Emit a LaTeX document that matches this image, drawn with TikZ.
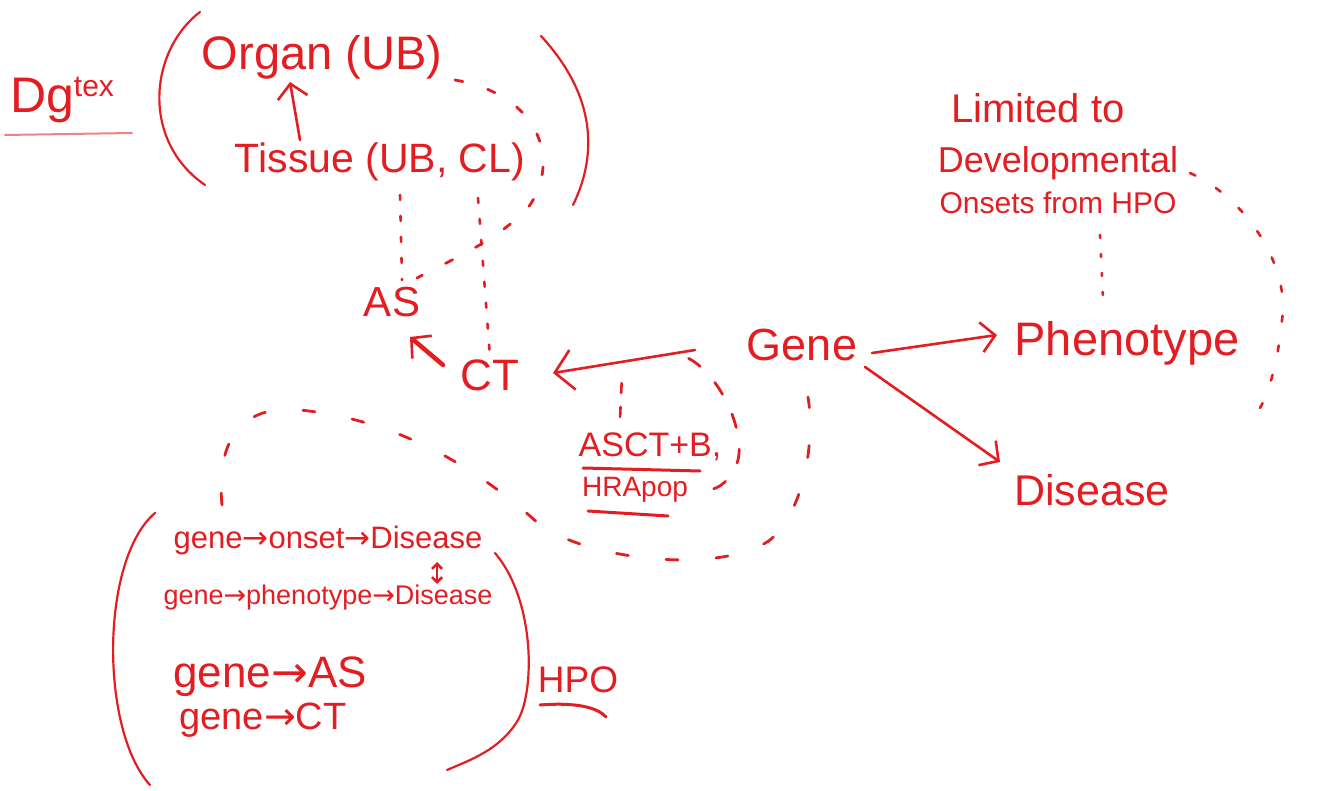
\documentclass[tikz,border=0pt]{standalone}
\usepackage{fontspec}
\setmainfont{Liberation Sans}
\newfontfamily\arrowfont{DejaVu Sans}
\usetikzlibrary{arrows.meta,calc}
\definecolor{ink}{RGB}{226,30,34}
\definecolor{inkpale}{RGB}{240,130,130}
\newcommand\myfs[1]{\fontsize{#1}{#1}\selectfont}
\newcommand\myarr{{\arrowfont →}}
\begin{document}
\begin{tikzpicture}[x=1pt,y=-1pt,
  txt/.style={text=ink,inner sep=0pt,anchor=center},
  arr/.style={draw=ink,line width=2.6pt,line cap=round,-{Straight Barb[length=14pt,width=30pt,line width=2.6pt]}},
  dsh/.style={draw=ink,line width=2.8pt,line cap=round,dash pattern=on 8pt off 26pt},
  dts/.style={draw=ink,line width=2.6pt,line cap=round,dash pattern=on 5pt off 16pt},
  loopd/.style={draw=ink,line width=2.8pt,line cap=round,dash pattern=on 12pt off 38pt},
  paren/.style={draw=ink,line width=2.2pt,line cap=round},
  uline/.style={draw=ink,line width=3pt,line cap=round}]
\fill[white] (0,0) rectangle (1317,791);
\useasboundingbox (0,0) rectangle (1317,791);

% texts
\node[txt] (dg) at (62,100) {\myfs{50}Dg\raisebox{16pt}{\myfs{30}tex}};
\node[txt,font=\myfs{47}] (organ) at (322,57) {Organ (UB)};
\node[txt,font=\myfs{41}] (tissue) at (380,162) {Tissue (UB, CL)};
\node[txt,font=\myfs{42}] (as) at (392,302) {AS};
\node[txt,font=\myfs{44}] (ct) at (490,375) {CT};
\node[txt,font=\myfs{45}] (gene) at (802,345) {Gene};
\node[txt,font=\myfs{47}] (pheno) at (1127,343) {Phenotype};
\node[txt,font=\myfs{43}] (disease) at (1092,490) {Disease};
\node[txt,font=\myfs{40}] (lim1) at (1038,108) {Limited to};
\node[txt,font=\myfs{36}] (lim2) at (1058,163) {Developmental};
\node[txt,font=\myfs{30}] (lim3) at (1058,203) {Onsets from HPO};
\node[txt,font=\myfs{34}] (asctb) at (650,447) {ASCT+B,};
\node[txt,font=\myfs{28}] (hrapop) at (635,490) {HRApop};
\node[txt,font=\myfs{31}] (l1) at (328,540) {gene\myarr onset\myarr Disease};
\node[txt,font=\myfs{27}] (l2) at (328,598) {gene\myarr phenotype\myarr Disease};
\node[txt,font=\myfs{44}] (l3) at (270,677) {gene\myarr AS};
\node[txt,font=\myfs{38}] (l4) at (263,720) {gene\myarr CT};
\node[txt,font=\myfs{37}] (hpo) at (578,680) {HPO};

% underlines
\draw[draw=inkpale,line width=2pt,line cap=round] ($(dg)+(-57,35)$) -- ($(dg)+(70,33)$);
\draw[uline] ($(asctb)+(-67,21)$) -- ($(asctb)+(50,24)$);
\draw[uline] ($(hrapop)+(-47,21)$) -- ($(hrapop)+(33,26)$);
\draw[uline] ($(hpo)+(-38,25)$) .. controls ($(hpo)+(0,22)$) and ($(hpo)+(20,28)$) .. ($(hpo)+(28,37)$);

% brackets
\draw[paren] (200,12) .. controls (150,50) and (140,140) .. (205,185);
\draw[paren] (541,36) .. controls (600,100) and (595,160) .. (573,205);
\draw[paren] (155,513) .. controls (100,560) and (100,730) .. (150,785);
\draw[paren] (495,553) .. controls (535,600) and (535,690) .. (518,720) .. controls (500,750) and (470,760) .. (447,770);

% arrows
\draw[arr] ($(tissue)+(-80,-22)$) -- ($(organ)+(-32,25)$);
\draw[arr,line width=4.5pt] ($(ct)+(-47,-10)$) -- ($(as)+(18,35)$);
\draw[arr,-{Straight Barb[length=18pt,width=40pt,line width=2.6pt]}] ($(gene)+(-107,5)$) -- coordinate[pos=0.12] (lp0) coordinate[pos=0.51] (lpm) ($(ct)+(63,-2)$);
\draw[arr] ($(gene)+(70,8)$) -- ($(pheno)+(-130,-8)$);
\draw[arr] ($(gene)+(63,22)$) -- ($(disease)+(-92,-28)$);
\draw[draw=ink,line width=2.6pt,{Straight Barb[length=5pt,width=10pt]}-{Straight Barb[length=5pt,width=10pt]}] ($(l1)+(109,22)$) -- ($(l2)+(109,-14)$);

% dashed / dotted links
\draw[dsh] ($(organ)+(133,23)$) .. controls (540,95) and (560,160) .. (530,205) .. controls (500,240) and (450,260) .. ($(as)+(25,-24)$);
\draw[dts] ($(tissue)+(20,33)$) -- ($(as)+(10,-22)$);
\draw[dts] ($(tissue)+(98,36)$) -- ($(ct)+(0,-18)$);
\draw[dts,dash pattern=on 3pt off 16pt] ($(lim3)+(42,32)$) -- ($(pheno)+(-24,-45)$);
\coordinate (arcend) at (1260,408);
\draw[dts,dash pattern=on 6pt off 24pt] ($(lim2)+(132,10)$) .. controls (1250,200) and (1290,270) .. (1282,320) .. controls (1278,360) and (1270,390) .. (arcend);
\draw[dts,dash pattern=on 10pt off 14pt,shorten <=2pt,shorten >=18pt] ($(asctb)+(-30,-28)$) -- (lpm);
\draw[dsh,dash pattern=on 14pt off 22pt,shorten <=12pt] (lp0) .. controls (720,375) and (745,430) .. (738,460) .. controls (732,480) and (718,490) .. ($(hrapop)+(72,0)$);
\draw[loopd] ($(l1)+(-106,-35)$) .. controls (215,430) and (250,405) .. (300,410) .. controls (400,420) and (480,470) .. (540,525) .. controls (590,560) and (720,575) .. (770,540) .. controls (805,510) and (815,440) .. ($(gene)+(6,52)$);
\end{tikzpicture}
\end{document}
